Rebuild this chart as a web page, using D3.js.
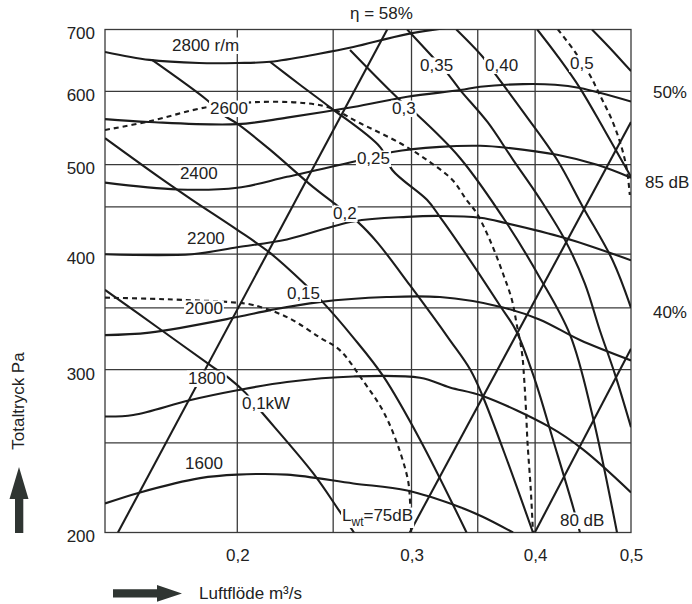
<!DOCTYPE html>
<html>
<head>
<meta charset="utf-8">
<script src="https://cdn.jsdelivr.net/npm/d3@7"></script>
<style>
body { margin: 0; background: #fff; }
svg text { font-family: "Liberation Sans", Arial, Helvetica, sans-serif; font-size: 17px; fill: #222; }
.grid line, .grid rect { stroke: #3a3a3a; stroke-width: 1.3; fill: none; }
.curve { stroke: #1c1c1c; stroke-width: 2.1; fill: none; }
.dash { stroke-dasharray: 5,4; }
</style>
</head>
<body>
<svg id="chart" width="692" height="604"></svg>
<script>
var flowTicks = [0.2, 0.3, 0.4, 0.5];
var flowGrid = [0.2, 0.25, 0.3, 0.35, 0.4];
var pressTicks = [200, 300, 400, 500, 600, 700];
var pressGrid = [250, 300, 350, 400, 450, 500, 600];

// fan speed curves: [flow m3/s, total pressure Pa]
var rpm2800 = [[0.147,662],[0.163,649],[0.183,644],[0.200,644],[0.216,646],[0.242,659],[0.262,670],[0.297,692],[0.336,706]];
var rpm2600 = [[0.147,560],[0.163,556],[0.200,553],[0.2245,562],[0.262,577],[0.297,592],[0.336,602],[0.352,607],[0.389,611],[0.419,610],[0.444,605],[0.5,585]];
var rpm2400 = [[0.147,478],[0.174,470],[0.200,472],[0.2245,485],[0.262,503.5],[0.287,516],[0.3205,522.6],[0.352,524],[0.3745,521.4],[0.421,512.3],[0.462,499.7],[0.5,484]];
var rpm2200 = [[0.147,400],[0.180,400],[0.200,407],[0.2245,415],[0.262,434],[0.297,439],[0.3205,440],[0.352,438],[0.3745,432],[0.4286,416.5],[0.5,394]];
var rpm2000 = [[0.147,327],[0.163,329],[0.200,342],[0.216,348],[0.242,355],[0.283,359.5],[0.3205,359.5],[0.3685,351],[0.404,340],[0.444,323],[0.5,307]];
var rpm1800 = [[0.147,267],[0.157,268],[0.179,278],[0.200,285],[0.2245,291],[0.262,295],[0.306,294],[0.328,287],[0.354,281],[0.414,260],[0.447,246],[0.5,221]];
var rpm1600 = [[0.147,215],[0.1595,221],[0.1834,229],[0.200,231],[0.2245,231],[0.262,226],[0.297,222],[0.336,213],[0.354,208],[0.380,200]];

// shaft power lines (kW)
var kw010 = [[0.147,366],[0.167,332],[0.189,302],[0.196,294],[0.204,283],[0.211,271],[0.2385,232],[0.254,210.5],[0.2624,200]];
var kw015 = [[0.147,534],[0.167,484],[0.180,458],[0.200,425],[0.216,401],[0.233,373],[0.244,355],[0.262,325],[0.281,295],[0.306,252],[0.341,200]];
var kw020 = [[0.164,649],[0.1865,587],[0.1935,566],[0.2003,553],[0.2158,519],[0.2385,473],[0.248,458],[0.265,433],[0.277,412],[0.299,370],[0.328,323],[0.344,300],[0.354,281],[0.3755,238],[0.398,200]];
var kw025 = [[0.2158,646],[0.2314,610],[0.248,577],[0.279,522],[0.287,493],[0.311,458],[0.3205,439],[0.340,401],[0.3685,352],[0.383,330],[0.400,292],[0.417,252],[0.437,213],[0.444,200]];
var kw030 = [[0.260,665],[0.292,587],[0.304,566],[0.336,508],[0.3745,432],[0.404,378],[0.434,327],[0.457,268],[0.484,200]];
var kw035 = [[0.297,700],[0.315,654],[0.326,628],[0.336,602],[0.358,556],[0.380,506],[0.404,460],[0.429,414],[0.449,372],[0.465,331],[0.482,296],[0.5,260]];
var kw040 = [[0.333,700],[0.354,654],[0.364,628],[0.3905,567],[0.421,506],[0.447,450],[0.479,394],[0.5,350]];
var kw050 = [[0.402,700],[0.422,654],[0.444,605],[0.470,545],[0.5,485]];
var kw060 = [[0.4566,700],[0.476,668.5],[0.5,631]];

// efficiency lines
var eta58 = [[0.1515,200],[0.2835,700]];
var eta50 = [[0.2988,200],[0.5,556]];
var eta40 = [[0.3997,200],[0.5,316]];

// sound power level curves (dashed)
var lwt75 = [[0.147,359],[0.163,358],[0.176,357],[0.1966,355],[0.2074,352.5],[0.2245,342],[0.2424,325],[0.2539,315],[0.2679,292],[0.2806,271],[0.290,250],[0.2975,228],[0.2989,217],[0.2997,200]];
var lwt80 = [[0.147,545],[0.163,557],[0.1864,577],[0.2074,584],[0.233,583],[0.248,576],[0.266,554.5],[0.292,527.6],[0.311,505.7],[0.330,481.2],[0.341,457.8],[0.349,443.3],[0.360,414.4],[0.371,381.7],[0.379,356.9],[0.383,337],[0.388,312.7],[0.390,292.4],[0.3916,271.3],[0.393,250],[0.396,222.3],[0.398,200]];
var lwt85 = [[0.4218,700],[0.4389,662],[0.4543,625],[0.465,594.6],[0.4783,558.7],[0.4884,525],[0.4953,493.4],[0.4986,463.5]];

var labelText = ["2800 r/m","2600","2400","2200","2000","1800","1600","0,1kW","0,15","0,2","0,25","0,3","0,35","0,40","0,5","80 dB"];
var labelAt = [[0.1718,663.5],[0.1877,567.1],[0.1750,482.4],[0.1779,410.3],[0.1771,344.7],[0.1783,289.5],[0.1771,234.3],[0.2022,272.0],[0.2245,357.8],[0.2499,436.6],[0.2642,500.7],[0.2867,567.1],[0.3060,631.3],[0.3560,631.3],[0.4338,634.4],[0.4238,203.3]];
var sideText = ["85 dB","50%","40%","\u03b7 = 58%"];
var sideAt = [[0.5165,471.7],[0.5262,590.2],[0.5262,341.2],[0.2600,718.6]];
var lwtLabelAt = [0.2552,205.8];

var svg = d3.select("#chart");

var x = d3.scaleLog().domain([0.147, 0.5]).range([105, 631]);
var y = d3.scaleLog().domain([200, 700]).range([532.5, 29.5]);

svg.append("defs").append("clipPath").attr("id", "plotclip")
    .append("rect")
    .attr("x", x(0.147)).attr("y", y(700))
    .attr("width", x(0.5) - x(0.147)).attr("height", y(200) - y(700));

// Grid
var grid = svg.append("g").attr("class", "grid");
grid.selectAll(".vgrid").data(flowGrid).enter().append("line")
    .attr("class", "vgrid")
    .attr("x1", function(d) { return x(d); })
    .attr("x2", function(d) { return x(d); })
    .attr("y1", y(700)).attr("y2", y(200));
grid.selectAll(".hgrid").data(pressGrid).enter().append("line")
    .attr("class", "hgrid")
    .attr("x1", x(0.147)).attr("x2", x(0.5))
    .attr("y1", function(d) { return y(d); })
    .attr("y2", function(d) { return y(d); });
grid.append("rect")
    .attr("x", x(0.147)).attr("y", y(700))
    .attr("width", x(0.5) - x(0.147)).attr("height", y(200) - y(700));

// Axes
var fmt = function(d) { return String(d).replace(".", ","); };
var yAxis = svg.append("g").attr("transform", "translate(" + x(0.147) + ",0)")
    .call(d3.axisLeft(y).tickValues(pressTicks).tickSize(0).tickPadding(10).tickFormat(fmt));
var xAxis = svg.append("g").attr("transform", "translate(0," + y(200) + ")")
    .call(d3.axisBottom(x).tickValues(flowTicks).tickSize(0).tickPadding(16).tickFormat(fmt));
svg.selectAll(".domain").remove();
yAxis.selectAll("text").attr("dy", "0.55em");
svg.selectAll(".tick text").attr("font-size", 17).attr("font-family", null).attr("fill", "#222");

// Curves
var smooth = d3.line()
    .x(function(d) { return x(d[0]); })
    .y(function(d) { return y(d[1]); })
    .curve(d3.curveCatmullRom.alpha(0.5));
var straight = d3.line()
    .x(function(d) { return x(d[0]); })
    .y(function(d) { return y(d[1]); });

var marks = svg.append("g").attr("clip-path", "url(#plotclip)");
[rpm2800, rpm2600, rpm2400, rpm2200, rpm2000, rpm1800, rpm1600,
 kw010, kw015, kw020, kw025, kw030, kw035, kw040, kw050, kw060].forEach(function(s) {
    marks.append("path").attr("class", "curve").attr("d", smooth(s));
});
[eta58, eta50, eta40].forEach(function(s) {
    marks.append("path").attr("class", "curve").attr("d", straight(s));
});
[lwt75, lwt80, lwt85].forEach(function(s) {
    marks.append("path").attr("class", "curve dash").attr("d", smooth(s));
});

// Labels on white boxes
var labels = svg.append("g");
function boxed(txt, below) {
    var b = txt.node().getBBox();
    var base = +txt.attr("y");
    labels.insert("rect", function() { return txt.node(); })
        .attr("x", b.x - 1).attr("y", base - 13.5)
        .attr("width", b.width + 2).attr("height", 13.5 + below)
        .attr("fill", "#fff");
}
labelText.forEach(function(t, i) {
    var txt = labels.append("text")
        .attr("x", x(labelAt[i][0])).attr("y", y(labelAt[i][1]))
        .text(t);
    boxed(txt, 3);
});

var lt = labels.append("text")
    .attr("x", x(lwtLabelAt[0])).attr("y", y(lwtLabelAt[1]));
lt.append("tspan").text("L");
lt.append("tspan").attr("dy", 5).attr("font-size", 12).text("wt");
lt.append("tspan").attr("dy", -5).text("=75dB");
boxed(lt, 7);

sideText.forEach(function(t, i) {
    labels.append("text")
        .attr("x", x(sideAt[i][0])).attr("y", y(sideAt[i][1]))
        .text(t);
});

// Axis titles with arrows
svg.append("text")
    .attr("transform", "translate(24,401) rotate(-90)")
    .attr("text-anchor", "middle")
    .text("Totaltryck Pa");
svg.append("text")
    .attr("x", 199).attr("y", 599)
    .text("Luftflöde m\u00b3/s");

svg.append("path")
    .attr("d", "M15,533 L23.3,533 L23.3,499 L28.5,499 L19,467 L9.5,499 L15,499 Z")
    .attr("fill", "#2f3532");
svg.append("path")
    .attr("d", "M113,589.3 L157,589.3 L157,585 L182,593.4 L157,601.8 L157,597.5 L113,597.5 Z")
    .attr("fill", "#2f3532");
</script>
</body>
</html>
